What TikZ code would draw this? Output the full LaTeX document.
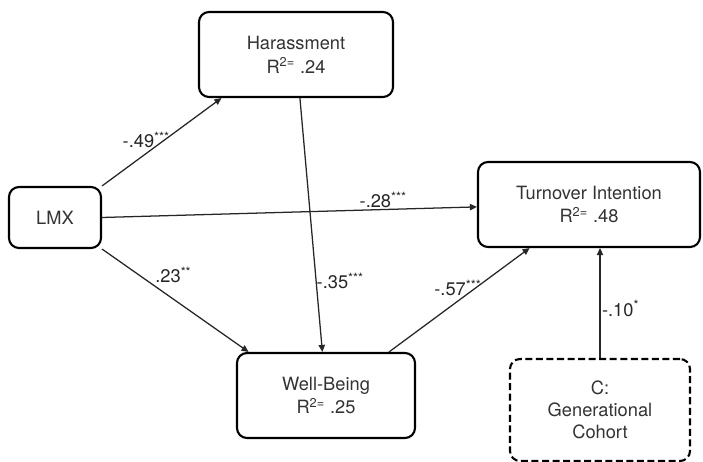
\documentclass[tikz,border=0pt]{standalone}
\usepackage{fontspec}
\setmainfont{TeX Gyre Heros}
\usetikzlibrary{arrows.meta,calc}

\begin{document}
\begin{tikzpicture}[
    box/.style={draw, rounded corners=0.25cm, line width=1.5pt, minimum width=#1, minimum height=2.125cm, align=center, text=black!80, font=\fontsize{13}{17}\selectfont},
    arr/.style={-{Triangle[length=5pt,width=4.5pt]}, line width=0.9pt, black!85},
    coef/.style={font=\fontsize{13}{15}\selectfont, text=black!85}
]
\useasboundingbox (0,0) rectangle (17.575,11.55);

\node[box=2.3cm, minimum height=1.525cm] (lmx) at (1.375,6.1125) {LMX};
\node[box=4.85cm] (har) at (7.4,10.1875) {Harassment\\R\textsuperscript{2=} .24};
\node[box=5.55cm] (turn) at (14.725,6.4375) {Turnover Intention\\R\textsuperscript{2=} .48};
\node[box=4.45cm] (wb) at (8.15,1.6625) {Well-Being\\R\textsuperscript{2=} .25};
\node[box=4.5cm, minimum height=2.55cm, dash pattern=on 5pt off 2.5pt, font=\fontsize{13}{15.5}\selectfont] (coh) at (15,1.3) {C:\\Generational\\Cohort};

\draw[arr] (lmx.north east) -- ($(har.south west)!0.12!(har.south east)$) node[coef, pos=0.37, above] {-.49\textsuperscript{***}};
\draw[arr] (lmx.east) -- ([yshift=-0.06cm]turn.west) node[coef, pos=0.75, above, inner sep=1pt] {-.28\textsuperscript{***}};
\draw[arr] (lmx.south east) -- ($(wb.north west)!0.07!(wb.north east)$) node[coef, pos=0.35, above right, inner sep=1pt] {.23\textsuperscript{**}};
\draw[arr] ($(har.south west)!0.52!(har.south east)$) -- ($(wb.north west)!0.48!(wb.north east)$) node[coef, pos=0.72, right, inner sep=0pt] {-.35\textsuperscript{***}};
\draw[arr] ($(wb.north west)!0.85!(wb.north east)$) -- ($(turn.south west)!0.235!(turn.south east)$) node[coef, pos=0.49, above] {-.57\textsuperscript{***}};
\draw[arr] (coh.north) -- (coh.north |- turn.south) node[coef, pos=0.45, right, inner sep=1pt] {-.10\textsuperscript{*}};
\end{tikzpicture}
\end{document}
